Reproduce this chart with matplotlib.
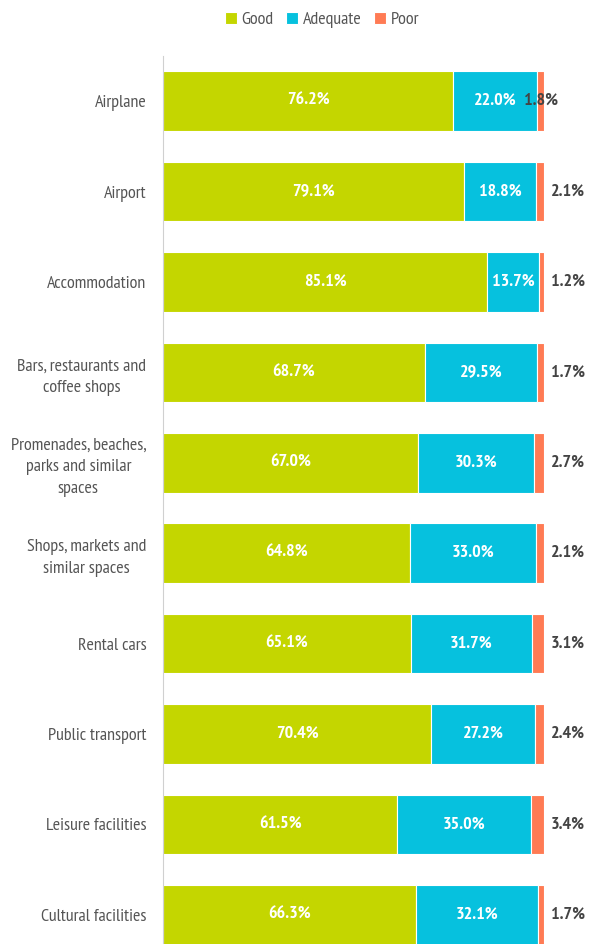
import matplotlib.pyplot as plt
import matplotlib.font_manager as fm
import numpy as np

categories = ['Airplane', 'Airport', 'Accommodation',
              'Bars, restaurants and\ncoffee shops',
              'Promenades, beaches,\nparks and similar\nspaces',
              'Shops, markets and\nsimilar spaces', 'Rental cars',
              'Public transport', 'Leisure facilities', 'Cultural facilities']
good = [76.2, 79.1, 85.1, 68.7, 67.0, 64.8, 65.1, 70.4, 61.5, 66.3]
adequate = [22.0, 18.8, 13.7, 29.5, 30.3, 33.0, 31.7, 27.2, 35.0, 32.1]
poor = [1.8, 2.1, 1.2, 1.7, 2.7, 2.1, 3.1, 2.4, 3.4, 1.7]

names = set(f.name for f in fm.fontManager.ttflist)
fam = 'DejaVu Sans'
for cand in ['PT Sans Narrow', 'Fira Sans Condensed', 'Roboto Condensed',
             'Open Sans Condensed', 'Liberation Sans Narrow']:
    if cand in names:
        fam = cand
        break
plt.rcParams['font.family'] = [fam, 'DejaVu Sans']

colors = ['#c4d600', '#06c1de', '#ff7b54']
fs = 13

fig = plt.figure(figsize=(5.92, 9.44), dpi=100)
ax = fig.add_axes([163 / 592, -16 / 944, 381 / 592, 904 / 944])

y = np.arange(len(categories))
g = np.array(good)
a = np.array(adequate)
p = np.array(poor)
ax.barh(y, g, height=0.66, color=colors[0], edgecolor='white', linewidth=0.8, label='Good')
ax.barh(y, a, left=g, height=0.66, color=colors[1], edgecolor='white', linewidth=0.8, label='Adequate')
ax.barh(y, p, left=g + a, height=0.66, color=colors[2], edgecolor='white', linewidth=0.8, label='Poor')

for i in range(len(categories)):
    ax.text(g[i] / 2, y[i], f'{good[i]:.1f}%', ha='center', va='center',
            color='white', fontsize=fs, fontweight='bold')
    ax.text(g[i] + a[i] / 2, y[i], f'{adequate[i]:.1f}%', ha='center', va='center',
            color='white', fontsize=fs, fontweight='bold')
    px = g[i] + a[i] + p[i] / 2 if i == 0 else 106.3
    ax.text(px, y[i], f'{poor[i]:.1f}%', ha='center', va='center',
            color='#444444', fontsize=fs, fontweight='bold')

ax.set_xlim(0, 100)
ax.set_ylim(len(categories) - 0.5, -0.5)
ax.set_yticks(y)
ax.set_yticklabels(categories, fontsize=fs, color='#555555', linespacing=1.45,
                   multialignment='center')
ax.tick_params(axis='y', length=0, pad=12)
ax.set_xticks([])
for s in ['top', 'right', 'bottom']:
    ax.spines[s].set_visible(False)
ax.spines['left'].set_color('#d0d0d0')

fig.legend(loc='center', bbox_to_anchor=(322 / 592, 1 - 20 / 944), ncol=3, frameon=False,
           fontsize=fs, labelcolor='#555555', handlelength=0.67, handleheight=0.67,
           handletextpad=0.25, columnspacing=0.7)

fig.savefig('out.png', dpi=100)
